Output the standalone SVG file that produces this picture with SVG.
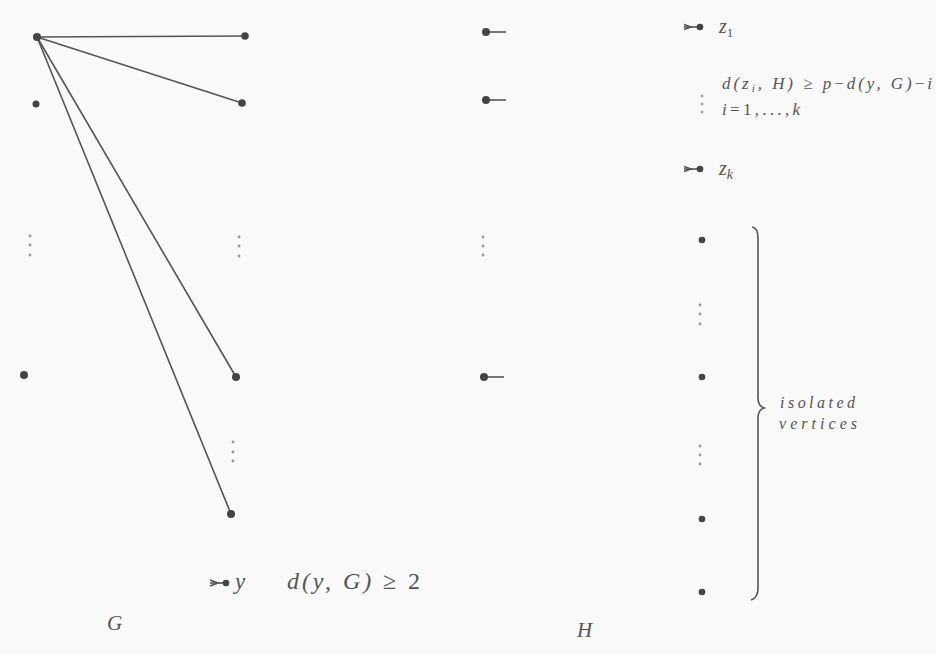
<svg xmlns="http://www.w3.org/2000/svg" width="936" height="654" viewBox="0 0 936 654">
<style>
.e{stroke:#555;stroke-width:1.6;fill:none}
.v{fill:#444}
.d{fill:#999}
.t{font-family:"Liberation Serif",serif;font-style:italic;fill:#555}
</style>
<rect width="936" height="654" fill="#f9f9f9"/>
<g id="edges">
<line class="e" x1="37" y1="37" x2="245" y2="36"/>
<line class="e" x1="37" y1="37" x2="242" y2="103"/>
<line class="e" x1="37" y1="37" x2="236" y2="377"/>
<line class="e" x1="37" y1="37" x2="231" y2="514"/>
<line class="e" x1="486" y1="32" x2="506" y2="32"/>
<line class="e" x1="486" y1="100" x2="506" y2="100"/>
<line class="e" x1="484" y1="377" x2="504" y2="377"/>
<line class="e" x1="684" y1="27" x2="700" y2="27"/>
<line class="e" x1="684" y1="169" x2="700" y2="169"/>
<line class="e" x1="210" y1="583" x2="226" y2="583"/>
</g>
<g id="G">
<circle class="v" cx="37" cy="37" r="4"/>
<circle class="v" cx="36" cy="104" r="3.5"/>
<circle class="v" cx="24" cy="375" r="4"/>
<circle class="v" cx="245" cy="36" r="3.8"/>
<circle class="v" cx="242" cy="103" r="3.8"/>
<circle class="v" cx="236" cy="377" r="4"/>
<circle class="v" cx="231" cy="514" r="4"/>
<circle class="d" cx="30" cy="236" r="1.4"/><circle class="d" cx="30" cy="245" r="1.4"/><circle class="d" cx="30" cy="255" r="1.4"/>
<circle class="d" cx="239" cy="237" r="1.4"/><circle class="d" cx="239" cy="246" r="1.4"/><circle class="d" cx="239" cy="256" r="1.4"/>
<circle class="d" cx="233" cy="442" r="1.4"/><circle class="d" cx="233" cy="452" r="1.4"/><circle class="d" cx="233" cy="461" r="1.4"/>
<path d="M210 580 L218 583 L210 586" class="e" stroke-width="1.3"/>
<circle class="v" cx="226" cy="583" r="3.3"/>
<text class="t" x="235" y="589" font-size="23">y</text>
<text class="t" x="287" y="589" font-size="24" textLength="133" lengthAdjust="spacing">d(y, G) <tspan font-style="normal">≥ 2</tspan></text>
<text class="t" x="107" y="630" font-size="21">G</text>
</g>
<g id="H">
<circle class="v" cx="486" cy="32" r="4"/>
<circle class="v" cx="486" cy="100" r="4"/>
<circle class="v" cx="484" cy="377" r="4"/>
<circle class="d" cx="483" cy="237" r="1.4"/><circle class="d" cx="483" cy="246" r="1.4"/><circle class="d" cx="483" cy="255" r="1.4"/>
<circle class="v" cx="700" cy="27" r="3.3"/>
<circle class="v" cx="700" cy="169" r="3.3"/>
<path d="M684 24.5 L691 27 L684 29.5" class="e" stroke-width="1.3"/>
<path d="M684 166.5 L691 169 L684 171.5" class="e" stroke-width="1.3"/>
<text class="t" x="719" y="33" font-size="20">z<tspan font-size="13" dy="4" font-style="normal">1</tspan></text>
<text class="t" x="719" y="175" font-size="20">z<tspan font-size="14" dy="4">k</tspan></text>
<text class="t" x="722" y="89" font-size="17" textLength="210" lengthAdjust="spacing">d(z<tspan font-size="11" dy="3">i</tspan><tspan dy="-3">, H) </tspan><tspan font-style="normal">≥</tspan> p<tspan font-style="normal">−</tspan>d(y, G)<tspan font-style="normal">−</tspan>i</text>
<text class="t" x="722" y="115" font-size="17" textLength="78" lengthAdjust="spacing">i<tspan font-style="normal">=1,...,</tspan>k</text>
<circle class="d" cx="702" cy="96" r="1.3"/><circle class="d" cx="702" cy="104" r="1.3"/><circle class="d" cx="702" cy="112" r="1.3"/>
<circle class="v" cx="702" cy="240" r="3.3"/>
<circle class="d" cx="700" cy="305" r="1.4"/><circle class="d" cx="700" cy="314" r="1.4"/><circle class="d" cx="700" cy="324" r="1.4"/>
<circle class="v" cx="702" cy="377" r="3.3"/>
<circle class="d" cx="700" cy="446" r="1.4"/><circle class="d" cx="700" cy="455" r="1.4"/><circle class="d" cx="700" cy="464" r="1.4"/>
<circle class="v" cx="702" cy="519" r="3.3"/>
<circle class="v" cx="702" cy="592" r="3.3"/>
<path class="e" stroke-width="1.4" d="M752 227 Q758 228 758 238 L758 398 Q758 406 764 408 Q758 410 758 418 L758 588 Q758 598 751 600"/>
<text class="t" x="780" y="408" font-size="16" textLength="75" lengthAdjust="spacing">isolated</text>
<text class="t" x="779" y="429" font-size="16" textLength="78" lengthAdjust="spacing">vertices</text>
<text class="t" x="577" y="637" font-size="21">H</text>
</g>
</svg>
